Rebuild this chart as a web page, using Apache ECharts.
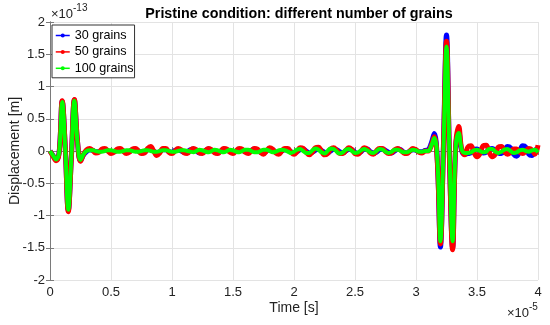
<!DOCTYPE html>
<html>
<head>
<meta charset="utf-8">
<script src="https://cdn.jsdelivr.net/npm/echarts@6/dist/echarts.min.js"></script>
<style>html,body{margin:0;padding:0;background:#fff}#c{width:550px;height:325px}</style>
</head>
<body>
<div id="c"></div>
<script>
// Time axis in units of 1e-5 s, displacement in units of 1e-13 m
const sampleStart = 0;
const sampleInterval = 0.025;
const xTicks = [0, 0.5, 1, 1.5, 2, 2.5, 3, 3.5, 4];
const yTicks = [-2, -1.5, -1, -0.5, 0, 0.5, 1, 1.5, 2];
const seriesNames = ['30 grains', '50 grains', '100 grains'];

const grains30 = [
  // 0 - 0.3 first pulse
  0, -0.07, -0.14, -0.02, 0.77, 0.05, -0.92, -0.10, 0.79, 0.15, -0.15, -0.06, -0.01,
  // 0.325 - 3.075
  0.02, 0.01, -0.01, -0.01, 0.01, 0.02, 0.00, -0.02,
  -0.01, 0.01, 0.02, 0.00, -0.02, -0.01, 0.02, 0.03,
  0.00, -0.03, -0.02, 0.02, 0.03, 0.00, -0.03, -0.01,
  0.02, 0.02, -0.01, -0.02, 0.01, 0.02, 0.00, -0.02,
  -0.01, 0.02, 0.03, 0.00, -0.03, -0.02, 0.01, 0.03,
  0.01, -0.02, -0.03, 0.00, 0.03, 0.02, -0.01, -0.02,
  0.00, 0.02, 0.01, -0.01, -0.02, 0.01, 0.03, 0.01,
  -0.02, -0.03, 0.00, 0.03, 0.02, -0.02, -0.03, 0.00,
  0.02, 0.02, -0.01, -0.03, -0.01, 0.02, 0.03, 0.00,
  -0.03, -0.02, 0.01, 0.03, 0.01, -0.02, -0.03, 0.00,
  0.03, 0.02, -0.01, -0.03, 0.00, 0.03, 0.02, -0.02,
  -0.04, -0.01, 0.03, 0.03, -0.01, -0.03, -0.02, 0.02,
  0.03, 0.01, -0.02, -0.03, 0.00, 0.03, 0.02, -0.02,
  -0.03, 0.00, 0.02, 0.01, -0.01, -0.01, 0.01,
  // 3.1 - 3.4 second pulse
  0.02, 0.12, 0.27, -0.15, -1.49, 0.10, 1.80, -0.15, -1.50, 0.05, 0.30, 0.00, -0.05,
  // 3.425 - 4.0
  -0.04, -0.03, 0.02, 0.03, 0.00, -0.03, -0.02, 0.02,
  0.04, 0.01, -0.03, -0.04, 0.01, 0.07, 0.05, -0.05,
  -0.08, 0.00, 0.08, 0.06, -0.05, -0.07, 0.01, 0.04
];

const grains50 = [
  0, -0.08, -0.15, -0.03, 0.78, 0.06, -0.94, -0.11, 0.80, 0.16, -0.16, -0.05, 0.02,
  0.04, 0.01, -0.03, -0.02, 0.03, 0.04, 0.00, -0.04,
  -0.02, 0.03, 0.04, 0.00, -0.04, -0.02, 0.03, 0.04,
  0.00, -0.04, -0.03, 0.04, 0.07, 0.00, -0.07, -0.03,
  0.04, 0.04, -0.02, -0.04, 0.00, 0.04, 0.02, -0.03,
  -0.04, 0.01, 0.04, 0.02, -0.03, -0.04, 0.01, 0.04,
  0.02, -0.03, -0.04, 0.00, 0.04, 0.03, -0.02, -0.04,
  0.00, 0.04, 0.03, -0.02, -0.04, 0.00, 0.04, 0.03,
  -0.02, -0.05, 0.00, 0.05, 0.03, -0.03, -0.05, 0.00,
  0.04, 0.04, -0.02, -0.05, -0.01, 0.05, 0.04, -0.02,
  -0.06, -0.02, 0.05, 0.06, 0.00, -0.06, -0.04, 0.03,
  0.05, 0.01, -0.04, -0.04, 0.01, 0.05, 0.02, -0.04,
  -0.05, 0.00, 0.05, 0.03, -0.03, -0.05, 0.00, 0.04,
  0.04, -0.01, -0.04, -0.03, 0.02, 0.04, 0.01, -0.03,
  -0.04, 0.00, 0.04, 0.02, -0.02, -0.03, 0.00,
  0.00, 0.08, 0.22, -0.18, -1.44, 0.05, 1.70, -0.18, -1.53, 0.08, 0.38, 0.02, -0.06,
  0.06, 0.08, -0.02, -0.09, -0.04, 0.08, 0.09, -0.02,
  -0.09, -0.05, 0.06, 0.07, -0.01, -0.05, -0.02, 0.03,
  0.03, -0.02, -0.04, 0.00, 0.04, 0.02, -0.05, 0.09
];

const grains100 = [
  0, -0.07, -0.13, -0.02, 0.76, 0.04, -0.91, -0.09, 0.78, 0.14, -0.14, -0.05, 0.00,
  0.01, 0.01, 0.00, -0.01, -0.01, 0.00, 0.01, 0.01,
  0.00, -0.01, -0.01, 0.00, 0.01, 0.01, 0.00, -0.01,
  -0.01, 0.00, 0.01, 0.01, 0.00, -0.01, -0.01, 0.00,
  0.01, 0.01, 0.00, -0.01, -0.01, 0.00, 0.01, 0.01,
  0.00, -0.01, -0.02, 0.00, 0.02, 0.01, -0.01, -0.02,
  0.00, 0.02, 0.01, -0.01, -0.02, 0.00, 0.02, 0.01,
  -0.01, -0.02, 0.00, 0.02, 0.02, 0.00, -0.02, -0.02,
  0.00, 0.02, 0.02, 0.00, -0.02, -0.01, 0.01, 0.02,
  0.01, -0.01, -0.03, -0.01, 0.02, 0.03, 0.00, -0.03,
  -0.03, 0.01, 0.04, 0.02, -0.02, -0.04, 0.00, 0.04,
  0.03, -0.01, -0.04, -0.02, 0.02, 0.03, 0.00, -0.03,
  -0.02, 0.01, 0.03, 0.01, -0.02, -0.03, 0.00, 0.03,
  0.02, -0.01, -0.03, -0.01, 0.02, 0.02, 0.00, -0.02,
  -0.02, 0.00, 0.02, 0.01, -0.01, -0.01, 0.00,
  0.00, 0.08, 0.20, -0.12, -1.40, 0.02, 1.62, -0.10, -1.40, 0.06, 0.28, 0.02, -0.03,
  -0.03, -0.02, 0.01, 0.02, 0.00, -0.02, -0.01, 0.03,
  0.03, -0.01, -0.03, -0.01, 0.02, 0.03, 0.00, -0.03,
  -0.02, 0.01, 0.02, 0.00, -0.01, 0.01, 0.02, -0.02
];

const seriesValues = [grains30, grains50, grains100];
const seriesColors = ['#0000ff', '#ff0000', '#00ff00'];
const seriesWidths = [5, 5, 4];

const time = grains30.map((_, i) => +(sampleStart + i * sampleInterval).toFixed(4));

const chart = echarts.init(document.getElementById('c'), null, {renderer: 'canvas'});
const FONT = 'Liberation Sans, Arial, Helvetica, sans-serif';
const axisGray = '#7a7a7a';
const gridGray = '#e3e3e3';

const baseAxis = {
  type: 'value',
  interval: 0.5,
  axisLine: {show: true, lineStyle: {color: axisGray, width: 1}},
  axisTick: {show: true, inside: true, length: 4, lineStyle: {color: axisGray}},
  splitLine: {show: false}
};

chart.setOption({
  animation: false,
  backgroundColor: '#fff',
  textStyle: {fontFamily: FONT},
  title: {
    text: 'Pristine condition: different number of grains',
    left: 299, top: 7, textAlign: 'center', padding: 0,
    textStyle: {fontSize: 14.3, fontWeight: 'bold', color: '#000', fontFamily: FONT}
  },
  grid: {left: 50, right: 12, top: 22, bottom: 45, containLabel: false, outerBoundsMode: 'none'},
  legend: {
    orient: 'vertical', left: 52, top: 25,
    padding: [4, 1, 3, 3], itemGap: 3.4, itemWidth: 14, itemHeight: 5,
    backgroundColor: '#fff', borderColor: '#333', borderWidth: 1,
    textStyle: {fontSize: 12.6, color: '#000', fontFamily: FONT},
    lineStyle: {width: 1.5},
    data: seriesNames
  },
  xAxis: [
    Object.assign({}, baseAxis, {
      min: xTicks[0], max: xTicks[xTicks.length - 1], position: 'bottom',
      axisLabel: {fontSize: 13, color: '#222', margin: 6, fontFamily: FONT},
      splitLine: {show: true, lineStyle: {color: gridGray, width: 1}},
      name: 'Time [s]', nameLocation: 'middle', nameGap: 21, nameMoveOverlap: false,
      nameTextStyle: {fontSize: 14, color: '#222', fontFamily: FONT}
    }),
    Object.assign({}, baseAxis, {
      min: xTicks[0], max: xTicks[xTicks.length - 1], position: 'top',
      axisLabel: {show: false}
    })
  ],
  yAxis: [
    Object.assign({}, baseAxis, {
      min: yTicks[0], max: yTicks[yTicks.length - 1], position: 'left',
      axisLabel: {fontSize: 13, color: '#222', margin: 5, fontFamily: FONT},
      splitLine: {show: true, lineStyle: {color: gridGray, width: 1}},
      name: 'Displacement [m]', nameLocation: 'middle', nameGap: 28, nameMoveOverlap: false,
      nameTextStyle: {fontSize: 14, color: '#222', fontFamily: FONT}
    }),
    Object.assign({}, baseAxis, {
      min: yTicks[0], max: yTicks[yTicks.length - 1], position: 'right',
      axisLabel: {show: false}
    })
  ],
  graphic: [
    {type: 'text', left: 51, top: 8, style: {text: '×10', fontSize: 13, fill: '#222', fontFamily: FONT}},
    {type: 'text', left: 73, top: 3, style: {text: '-13', fontSize: 10, fill: '#222', fontFamily: FONT}},
    {type: 'text', left: 507, top: 307, style: {text: '×10', fontSize: 13, fill: '#222', fontFamily: FONT}},
    {type: 'text', left: 529, top: 302, style: {text: '-5', fontSize: 10, fill: '#222', fontFamily: FONT}}
  ],
  series: seriesValues.map((vals, k) => ({
    name: seriesNames[k],
    type: 'line',
    xAxisIndex: 0, yAxisIndex: 0,
    data: time.map((t, i) => [t, vals[i]]),
    smooth: 0.4,
    symbol: 'circle', symbolSize: 4, showSymbol: false,
    color: seriesColors[k],
    lineStyle: {color: seriesColors[k], width: seriesWidths[k]},
    itemStyle: {color: seriesColors[k]},
    emphasis: {disabled: true}
  }))
});
</script>
</body>
</html>
